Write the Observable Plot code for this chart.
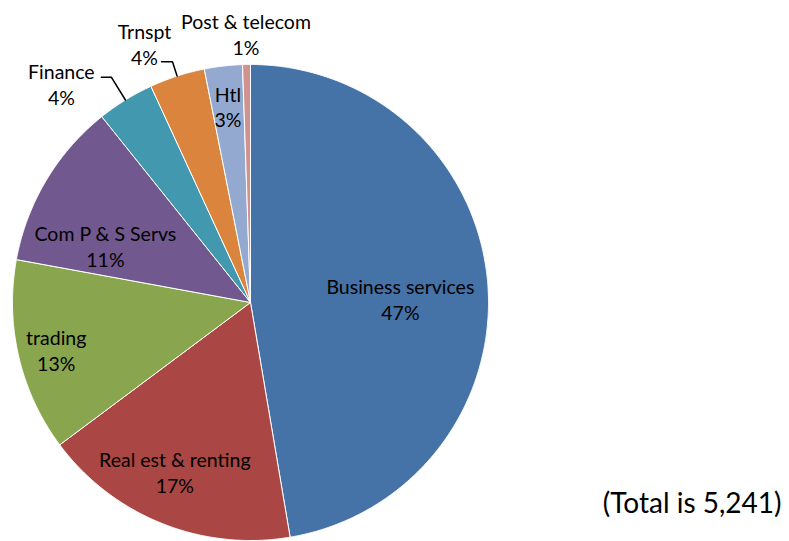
<!DOCTYPE html>
<html>
<head>
<meta charset="utf-8">
<script src="https://cdn.jsdelivr.net/npm/d3@7"></script>
<script src="https://cdn.jsdelivr.net/npm/@observablehq/plot@0.6"></script>
<style>
  html, body { margin: 0; padding: 0; background: #fff; }
  #chart { position: relative; width: 789px; height: 541px; }
</style>
</head>
<body>
<div id="chart"></div>
<script>
// ---- data ----
const categories = ["Business services", "Real est & renting", "trading", "Com P & S Servs", "Finance", "Trnspt", "Htl", "Post & telecom"];
const counts = [2481, 915, 686, 596, 203, 197, 135, 28];
const totalLabel = "(Total is 5,241)";

// ---- styles / layout (not data) ----
const colors = ["#4572A7", "#AA4643", "#89A54E", "#71588F", "#4198AF", "#DB843D", "#93A9CF", "#D19392"];
// label centre: radius factor and angle nudge (degrees) from the slice's mid-angle
const labelRadius = [0.63, 0.78, 0.84, 0.655, 1.216, 1.176, 0.83, 1.13];
const labelNudge  = [3.3, 2.2, -0.5, -9.4, -9.1, -4.3, 0, 0];
// leader lines: [elbow radius factor, horizontal run] (null = none)
const leaders = [null, null, null, null, [1.113, 0.042], [1.063, 0.046], null, null];
const FONT = "Lato, 'Open Sans', sans-serif";
const FS = 19.5;

const total = d3.sum(counts);
const rad = (deg) => deg * Math.PI / 180;
const pt = (deg, r) => [r * Math.sin(rad(deg)), r * Math.cos(rad(deg))];

// slice polygons (angles clockwise from 12 o'clock)
const slicePts = [];
const labels = [];
const leaderPts = [];
let cum = 0;
categories.forEach((name, i) => {
  const a0 = cum / total * 360;
  cum += counts[i];
  const a1 = cum / total * 360;
  slicePts.push({name, x: 0, y: 0});
  const n = Math.max(2, Math.ceil((a1 - a0) / 0.25));
  for (let k = 0; k <= n; k++) {
    const [x, y] = pt(a0 + (a1 - a0) * k / n, 1);
    slicePts.push({name, x, y});
  }
  slicePts.push({name, x: 0, y: 0});
  const mid = (a0 + a1) / 2;
  const [lx, ly] = pt(mid + labelNudge[i], labelRadius[i]);
  labels.push({name, x: lx, y: ly, text: name + "\n" + Math.round(counts[i] / total * 100) + "%"});
  if (leaders[i]) {
    const [ex, ey] = pt(mid, 1);
    const [bx, by] = pt(mid, leaders[i][0]);
    leaderPts.push({name, x: ex, y: ey}, {name, x: bx, y: by}, {name, x: bx - leaders[i][1], y: by});
  }
});

const R = 238, CX = 250, CY = 302;
const chart = Plot.plot({
  width: 789,
  height: 541,
  margin: 0,
  style: {fontFamily: FONT, background: "#fff"},
  x: {domain: [-1, 1], range: [CX - R, CX + R], axis: null},
  y: {domain: [-1, 1], range: [CY + R, CY - R], axis: null},
  color: {domain: categories, range: colors},
  marks: [
    Plot.line(slicePts, {x: "x", y: "y", z: "name", fill: "name", stroke: "white", strokeWidth: 1, curve: "linear", strokeLinejoin: "round"}),
    Plot.line(leaderPts, {x: "x", y: "y", z: "name", stroke: "black", strokeWidth: 1.5}),
    Plot.text(labels, {x: "x", y: "y", text: "text", fontSize: FS, lineHeight: 1.32, lineAnchor: "middle", fill: "#000", fontFamily: FONT}),
    Plot.text([totalLabel], {frameAnchor: "bottom-right", dx: -8, dy: -37, text: d => d, fontSize: 28, textAnchor: "end", lineAnchor: "middle", fill: "#000", fontFamily: FONT})
  ]
});
document.getElementById("chart").appendChild(chart);
</script>
</body>
</html>
